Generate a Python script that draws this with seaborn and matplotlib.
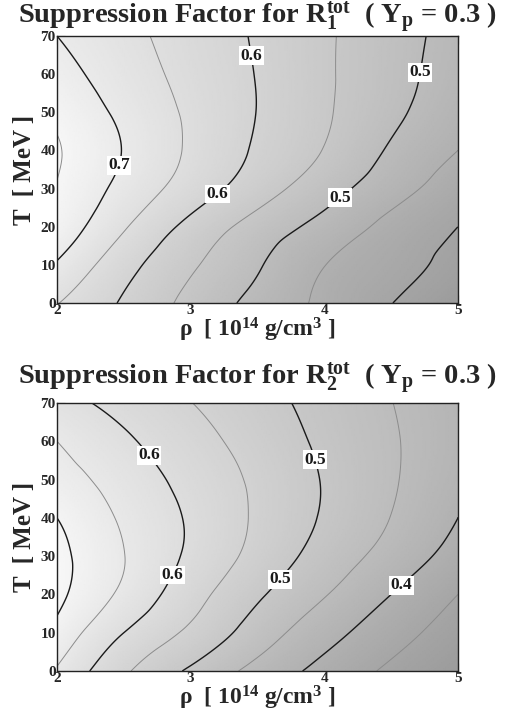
import numpy as np
import matplotlib
matplotlib.use("Agg")
import matplotlib.pyplot as plt
import matplotlib.tri as mtri
from matplotlib.colors import LinearSegmentedColormap
from matplotlib.ticker import MultipleLocator
import seaborn as sns

# ---------------- data ----------------
rho_grid = [2.0, 2.5, 3.0, 3.5, 4.0, 4.5, 5.0]          # 10^14 g/cm^3
T_grid = [0, 10, 20, 30, 40, 50, 60, 70]                  # MeV

# suppression factor R1^tot, one row per temperature
R1_rows = [
    [0.652, 0.594, 0.536, 0.485, 0.440, 0.401, 0.362],
    [0.695, 0.619, 0.557, 0.505, 0.451, 0.418, 0.384],
    [0.735, 0.655, 0.586, 0.531, 0.483, 0.436, 0.400],
    [0.748, 0.685, 0.627, 0.573, 0.521, 0.470, 0.423],
    [0.754, 0.698, 0.643, 0.594, 0.548, 0.494, 0.450],
    [0.739, 0.689, 0.642, 0.599, 0.556, 0.511, 0.467],
    [0.718, 0.675, 0.635, 0.598, 0.557, 0.517, 0.478],
    [0.700, 0.664, 0.629, 0.595, 0.557, 0.519, 0.483],
]
# suppression factor R2^tot
R2_rows = [
    [0.645, 0.558, 0.4925, 0.434, 0.385, 0.341, 0.305],
    [0.685, 0.600, 0.540, 0.476, 0.419, 0.370, 0.327],
    [0.712, 0.639, 0.570, 0.5075, 0.453, 0.400, 0.350],
    [0.714, 0.651, 0.591, 0.534, 0.480, 0.431, 0.380],
    [0.700, 0.643, 0.594, 0.543, 0.495, 0.449, 0.400],
    [0.672, 0.628, 0.584, 0.541, 0.497, 0.455, 0.413],
    [0.650, 0.608, 0.569, 0.530, 0.491, 0.455, 0.419],
    [0.618, 0.584, 0.551, 0.517, 0.484, 0.451, 0.418],
]

major_levels = [0.3, 0.4, 0.5, 0.6, 0.7]
minor_levels = [0.35, 0.45, 0.55, 0.65, 0.75]

R1_label_pos = [(2.47, 36), (3.48, 65), (3.19, 29), (4.71, 60.5), (4.12, 27.5)]
R2_label_pos = [(2.70, 56.6), (2.88, 24.8), (3.94, 55.3), (3.67, 23.8), (4.58, 22.3)]

panel_index = ["1", "2"]
Yp_value = "0.3"

# ---------------- style ----------------
sns.set_theme(style="ticks")
plt.rcParams["font.family"] = ["Liberation Serif", "DejaVu Serif"]
plt.rcParams["font.weight"] = "bold"
plt.rcParams["mathtext.fontset"] = "custom"
plt.rcParams["mathtext.rm"] = "Liberation Serif:bold"
plt.rcParams["mathtext.it"] = "Liberation Serif:bold"
plt.rcParams["mathtext.bf"] = "Liberation Serif:bold"

gray_cmap = LinearSegmentedColormap.from_list("g", ["#9c9c9c", "#f7f7f7"])

fig = plt.figure(figsize=(5.09, 7.15), dpi=100)
W, H = 509.0, 715.0

layouts = [
    dict(rows=R1_rows, labels=R1_label_pos, top=36, bottom=303, title_base=24, xlab_base=337),
    dict(rows=R2_rows, labels=R2_label_pos, top=403, bottom=671, title_base=385, xlab_base=705),
]

RR, TT = np.meshgrid(np.array(rho_grid), np.array(T_grid, dtype=float))
tri = mtri.Triangulation(RR.ravel(), TT.ravel())
refiner = mtri.UniformTriRefiner(tri)

for k, lay in enumerate(layouts):
    z = np.array(lay["rows"], dtype=float).ravel()
    interp = mtri.CubicTriInterpolator(tri, z, kind="min_E")
    tri_f, z_f = refiner.refine_field(z, triinterpolator=interp, subdiv=5)

    ax = fig.add_axes([57 / W, 1 - lay["bottom"] / H, (458 - 57) / W,
                       (lay["bottom"] - lay["top"]) / H])
    ax.tripcolor(tri_f, z_f, shading="gouraud", cmap=gray_cmap,
                 vmin=z.min(), vmax=z.max(), rasterized=True)
    ax.tricontour(tri_f, z_f, levels=minor_levels, colors="#8c8c8c", linewidths=0.7)
    cs = ax.tricontour(tri_f, z_f, levels=major_levels, colors="#1a1a1a", linewidths=1.0)
    texts = ax.clabel(cs, fmt="%.1f", manual=lay["labels"], inline=False, fontsize=12.5)
    for t in texts:
        t.set_rotation(0)
        t.set_fontweight("bold")
        t.set_bbox(dict(boxstyle="square,pad=0.08", fc="white", ec="none"))
        t.set_zorder(10)

    ax.set_xlim(2, 5)
    ax.set_ylim(0, 70)
    ax.xaxis.set_major_locator(MultipleLocator(1))
    ax.xaxis.set_minor_locator(MultipleLocator(0.1))
    ax.yaxis.set_major_locator(MultipleLocator(10))
    ax.yaxis.set_minor_locator(MultipleLocator(5))
    ax.tick_params(which="both", direction="in", top=True, right=True,
                   color="#333333", width=0.8)
    ax.tick_params(which="major", length=6, labelsize=11, pad=1)
    ax.tick_params(which="minor", length=3.5)
    for lab in ax.get_xticklabels() + ax.get_yticklabels():
        lab.set_fontweight("bold")
    for s in ax.spines.values():
        s.set_color("#222222")
        s.set_linewidth(1.0)
    ax.set_xlabel("")
    ax.set_ylabel("")
    ax.grid(False)

    fig.text(257.5 / W, 1 - lay["title_base"] / H,
             r"Suppression Factor for R$_{" + panel_index[k] + r"}^{\mathrm{tot}}$  ( Y$_\mathrm{p}$ = " + Yp_value + " )",
             ha="center", va="baseline", fontsize=20.5, fontweight="bold")
    fig.text(257.5 / W, 1 - lay["xlab_base"] / H,
             r"ρ  [ 10$^{14}$ g/cm$^{3}$ ]",
             ha="center", va="baseline", fontsize=17, fontweight="bold")
    fig.text(25 / W, 1 - (lay["top"] + lay["bottom"]) / 2 / H, "T  [ MeV ]",
             ha="center", va="center", rotation=90, fontsize=18, fontweight="bold")

fig.savefig("out.png", dpi=100)
